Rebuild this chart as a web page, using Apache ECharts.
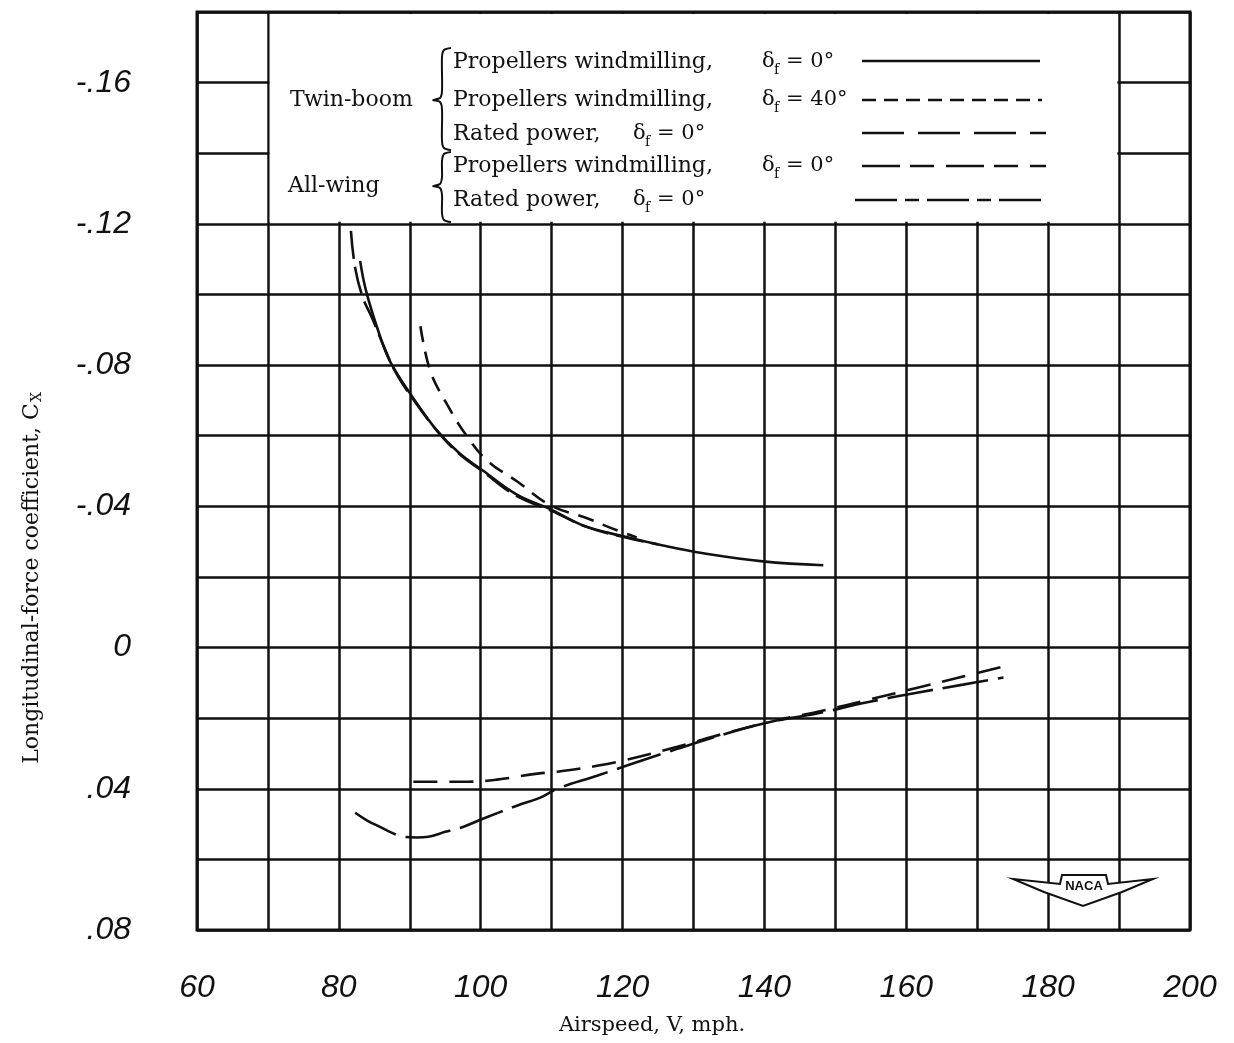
<!DOCTYPE html>
<html>
<head>
<meta charset="utf-8">
<script src="https://cdn.jsdelivr.net/npm/echarts@6/dist/echarts.min.js"></script>
<style>
  html, body { margin: 0; padding: 0; background: #fff; }
  #chart { width: 1234px; height: 1043px; }
</style>
</head>
<body>
<div id="chart"></div>
<script>
// Longitudinal-force coefficient C_X vs airspeed V (mph)
const xTicks = [60, 80, 100, 120, 140, 160, 180, 200];
const yTicks = [-0.16, -0.12, -0.08, -0.04, 0, 0.04, 0.08];

// Twin-boom, propellers windmilling, flap 0 deg (solid)
const twinWind0 = [
  [83.0, -0.1095], [83.8, -0.1013], [85.5, -0.0900], [87.2, -0.0811], [90.3, -0.0712],
  [93.9, -0.0613], [97.0, -0.0550], [100.2, -0.0503], [105.1, -0.0433], [109.8, -0.0392],
  [114.4, -0.0346], [120.1, -0.0315], [125.7, -0.0289], [131.4, -0.0267], [139.8, -0.0244],
  [148.3, -0.0233]
];
// Twin-boom, propellers windmilling, flap 40 deg (short dash)
const twinWind40 = [
  [91.5, -0.0910], [92.9, -0.0783], [95.3, -0.0687], [98.0, -0.0600], [101.0, -0.0528],
  [105.1, -0.0471], [109.8, -0.0403], [115.0, -0.0366], [119.2, -0.0332], [122.0, -0.0312]
];
// Twin-boom, rated power, flap 0 deg (long dash)
const twinPower0 = [
  [81.7, -0.1180], [82.3, -0.1075], [83.4, -0.0990], [84.7, -0.0933], [86.2, -0.0860],
  [88.0, -0.0780], [90.3, -0.0708], [94.0, -0.0610], [97.0, -0.0548], [100.2, -0.0500],
  [105.0, -0.0430], [110.0, -0.0387], [115.0, -0.0341], [120.0, -0.0314], [125.0, -0.0292]
];
// All-wing, propellers windmilling, flap 0 deg
const wingWind0 = [
  [82.3, 0.0468], [84.0, 0.0490], [85.8, 0.0508], [87.5, 0.0525], [89.1, 0.0536],
  [91.0, 0.0538], [92.6, 0.0536], [95.0, 0.0522], [97.5, 0.0508], [100.3, 0.0485],
  [105.1, 0.0448], [108.4, 0.0425], [110.8, 0.0400], [116.4, 0.0363], [120.5, 0.0335],
  [127.7, 0.0287], [135.6, 0.0238], [141.0, 0.0210], [147.4, 0.0187], [154.5, 0.0155],
  [161.5, 0.0128], [168.0, 0.0105], [173.7, 0.0085]
];
// All-wing, rated power, flap 0 deg
const wingPower0 = [
  [90.5, 0.0380], [94.0, 0.0380], [98.1, 0.0380], [102.3, 0.0374], [108.0, 0.0357],
  [110.8, 0.0352], [116.4, 0.0335], [120.5, 0.0318], [127.7, 0.0281], [135.0, 0.0240],
  [142.0, 0.0205], [148.0, 0.0180], [155.0, 0.0146], [162.0, 0.0112], [168.0, 0.0082],
  [174.2, 0.0051]
];

const ink = '#111';
const tickFont = { fontFamily: 'Liberation Sans', fontStyle: 'italic', fontSize: 32, color: ink };
const serif = 'DejaVu Serif';
const TOP = 100;

function yLabel(v) {
  const r = Math.round(v * 100);
  if (r % 4 !== 0) return '';
  if (r === 0) return '0';
  const s = String(Math.abs(r)).padStart(2, '0');
  return (r < 0 ? '-' : '') + '.' + s;
}

function curve(name, data, dash, extra) {
  return Object.assign({
    name: name,
    type: 'line',
    data: data,
    smooth: 0.4,
    symbol: 'none',
    lineStyle: { color: ink, width: 2.6, type: dash },
    z: 3
  }, extra || {});
}

function txt(x, y, str, size, align) {
  return { type: 'text', z: TOP, x: x, y: y,
    style: { text: str, font: size + 'px "' + serif + '"', fill: ink, align: align || 'left', verticalAlign: 'middle' } };
}
// legend helper: delta_f = value
function deltaText(x, y, val) {
  return [
    txt(x, y, 'δ', 21),
    txt(x + 12, y + 8, 'f', 14),
    txt(x + 24, y, '= ' + val + '°', 21)
  ];
}
function sample(x1, x2, y, dash) {
  const st = { stroke: ink, lineWidth: 2.4 };
  if (dash) st.lineDash = dash;
  return { type: 'line', z: TOP, shape: { x1: x1, y1: y, x2: x2, y2: y }, style: st };
}
function brace(x, top, mid, bottom) {
  const pts = [[x + 9, top], [x + 2, top + 2], [x, top + 9], [x, mid - 9], [x - 2, mid - 2], [x - 9, mid],
    [x - 2, mid + 2], [x, mid + 9], [x, bottom - 9], [x + 2, bottom - 2], [x + 9, bottom]];
  return { type: 'polyline', z: TOP, shape: { points: pts, smooth: 0.3 }, style: { stroke: ink, lineWidth: 2, fill: null } };
}

const legendGraphics = [
  txt(290, 100, 'Twin-boom', 22),
  txt(288, 186, 'All-wing', 22),
  brace(442, 48, 100, 150),
  brace(442, 152, 186, 222),
  txt(453, 62, 'Propellers windmilling,', 22),
  txt(453, 100, 'Propellers windmilling,', 22),
  txt(453, 134, 'Rated power,', 22),
  txt(453, 166, 'Propellers windmilling,', 22),
  txt(453, 200, 'Rated power,', 22),
  ...deltaText(762, 62, '0'),
  ...deltaText(762, 100, '40'),
  ...deltaText(633, 134, '0'),
  ...deltaText(762, 166, '0'),
  ...deltaText(633, 200, '0'),
  sample(862, 1040, 61, null),
  sample(862, 1042, 100, [14, 8]),
  sample(862, 1046, 133, [42, 14]),
  sample(862, 1046, 166, [38, 10, 24, 12]),
  sample(855, 1048, 200, [42, 8, 14, 8]),
  // NACA emblem
  { type: 'polygon', z: TOP, shape: { points: [[1013, 879], [1060, 884], [1062, 875], [1106, 875], [1108, 884], [1153, 879],
      [1122, 892], [1083, 906], [1044, 892]] }, style: { fill: '#fff', stroke: ink, lineWidth: 2 } },
  { type: 'text', z: TOP, x: 1084, y: 886, style: { text: 'NACA', font: 'bold 13px "Liberation Sans"', fill: ink, align: 'center', verticalAlign: 'middle' } },
  // axis titles
  txt(652, 1026, 'Airspeed, V, mph.', 21, 'center'),
  { type: 'text', z: TOP, x: 32, y: 578, rotation: Math.PI / 2,
    style: { text: 'Longitudinal-force coefficient, C{sub|X}', font: '22px "' + serif + '"', fill: ink, align: 'center', verticalAlign: 'middle',
      rich: { sub: { font: '14px "' + serif + '"', fill: ink, padding: [10, 0, 0, 1] } } } }
];

const chart = echarts.init(document.getElementById('chart'), null, { renderer: 'canvas' });
chart.setOption({
  backgroundColor: '#fff',
  animation: false,
  grid: { left: 197, right: 44, top: 12, bottom: 113, show: true, borderColor: ink, borderWidth: 3, backgroundColor: 'transparent' },
  xAxis: {
    type: 'value', min: 60, max: 200, interval: 10,
    axisLine: { show: false }, axisTick: { show: false },
    splitLine: { show: true, lineStyle: { color: ink, width: 2.5 } },
    axisLabel: Object.assign({ margin: 58, verticalAlign: 'middle',
      formatter: v => (xTicks.indexOf(v) >= 0 ? String(v) : '') }, tickFont)
  },
  yAxis: {
    type: 'value', inverse: true, min: -0.18, max: 0.08, interval: 0.02,
    axisLine: { show: false }, axisTick: { show: false },
    splitLine: { show: true, lineStyle: { color: ink, width: 2.5 } },
    axisLabel: Object.assign({ margin: 66, align: 'right', formatter: yLabel }, tickFont)
  },
  series: [
    curve('Twin-boom windmilling 0', twinWind0, 'solid', {
      markArea: {
        silent: true,
        itemStyle: { color: '#fff', borderWidth: 0, opacity: 1 },
        data: [[{ coord: [70.25, -0.1794] }, { coord: [189.75, -0.1206] }]]
      }
    }),
    curve('Twin-boom windmilling 40', twinWind40, [16, 10]),
    curve('Twin-boom rated power 0', twinPower0, [28, 8]),
    curve('All-wing windmilling 0', wingWind0, [46, 10]),
    curve('All-wing rated power 0', wingPower0, [24, 12])
  ],
  graphic: legendGraphics
});
</script>
</body>
</html>
